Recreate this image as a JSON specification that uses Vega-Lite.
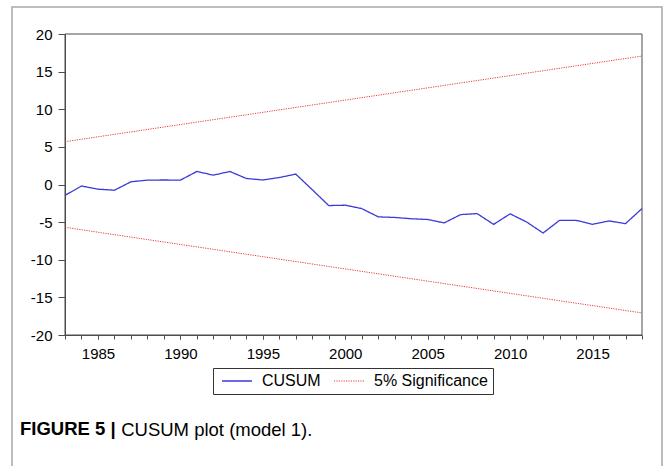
{
  "$schema": "https://vega.github.io/schema/vega-lite/v6.json",
  "width": 650,
  "height": 461,
  "autosize": "none",
  "padding": {"left": 12, "top": 7, "right": 3, "bottom": -2},
  "background": "white",
  "config": {
    "view": {"stroke": "#a8a8a8", "strokeWidth": 1.5},
    "font": "Liberation Sans",
    "axis": {
      "grid": false,
      "ticks": true,
      "labelOverlap": false,
      "labelFlush": false,
      "domainColor": "#4d4d4d",
      "tickColor": "#4d4d4d",
      "labelFont": "Liberation Sans",
      "labelFontSize": 15,
      "labelColor": "black"
    },
    "axisX": {"tickSize": 4, "labelPadding": 7},
    "axisY": {"tickSize": 7, "labelPadding": 6}
  },
  "title": {
    "text": "FIGURE 5 |",
    "orient": "bottom",
    "anchor": "start",
    "frame": "group",
    "offset": -33,
    "baseline": "alphabetic",
    "dx": 8,
    "fontSize": 18.5,
    "fontWeight": "bold",
    "color": "black",
    "font": "Liberation Sans"
  },
  "resolve": {"axis": {"x": "independent"}},
  "layer": [
    {
      "data": {
        "values": [
          {"year": 1983, "value": -1.45, "series": "CUSUM", "band": "cusum"},
          {"year": 1984, "value": -0.2, "series": "CUSUM", "band": "cusum"},
          {"year": 1985, "value": -0.62, "series": "CUSUM", "band": "cusum"},
          {"year": 1986, "value": -0.76, "series": "CUSUM", "band": "cusum"},
          {"year": 1987, "value": 0.36, "series": "CUSUM", "band": "cusum"},
          {"year": 1988, "value": 0.58, "series": "CUSUM", "band": "cusum"},
          {"year": 1989, "value": 0.6, "series": "CUSUM", "band": "cusum"},
          {"year": 1990, "value": 0.58, "series": "CUSUM", "band": "cusum"},
          {"year": 1991, "value": 1.73, "series": "CUSUM", "band": "cusum"},
          {"year": 1992, "value": 1.24, "series": "CUSUM", "band": "cusum"},
          {"year": 1993, "value": 1.73, "series": "CUSUM", "band": "cusum"},
          {"year": 1994, "value": 0.8, "series": "CUSUM", "band": "cusum"},
          {"year": 1995, "value": 0.6, "series": "CUSUM", "band": "cusum"},
          {"year": 1996, "value": 0.93, "series": "CUSUM", "band": "cusum"},
          {"year": 1997, "value": 1.38, "series": "CUSUM", "band": "cusum"},
          {"year": 1998, "value": -0.7, "series": "CUSUM", "band": "cusum"},
          {"year": 1999, "value": -2.8, "series": "CUSUM", "band": "cusum"},
          {"year": 2000, "value": -2.75, "series": "CUSUM", "band": "cusum"},
          {"year": 2001, "value": -3.2, "series": "CUSUM", "band": "cusum"},
          {"year": 2002, "value": -4.3, "series": "CUSUM", "band": "cusum"},
          {"year": 2003, "value": -4.38, "series": "CUSUM", "band": "cusum"},
          {"year": 2004, "value": -4.55, "series": "CUSUM", "band": "cusum"},
          {"year": 2005, "value": -4.65, "series": "CUSUM", "band": "cusum"},
          {"year": 2006, "value": -5.1, "series": "CUSUM", "band": "cusum"},
          {"year": 2007, "value": -4.0, "series": "CUSUM", "band": "cusum"},
          {"year": 2008, "value": -3.87, "series": "CUSUM", "band": "cusum"},
          {"year": 2009, "value": -5.3, "series": "CUSUM", "band": "cusum"},
          {"year": 2010, "value": -3.9, "series": "CUSUM", "band": "cusum"},
          {"year": 2011, "value": -4.98, "series": "CUSUM", "band": "cusum"},
          {"year": 2012, "value": -6.45, "series": "CUSUM", "band": "cusum"},
          {"year": 2013, "value": -4.76, "series": "CUSUM", "band": "cusum"},
          {"year": 2014, "value": -4.76, "series": "CUSUM", "band": "cusum"},
          {"year": 2015, "value": -5.29, "series": "CUSUM", "band": "cusum"},
          {"year": 2016, "value": -4.84, "series": "CUSUM", "band": "cusum"},
          {"year": 2017, "value": -5.2, "series": "CUSUM", "band": "cusum"},
          {"year": 2018, "value": -3.2, "series": "CUSUM", "band": "cusum"},
          {"year": 1983, "value": 5.69, "series": "5% Significance", "band": "upper"},
          {"year": 2018, "value": 17.07, "series": "5% Significance", "band": "upper"},
          {"year": 1983, "value": -5.69, "series": "5% Significance", "band": "lower"},
          {"year": 2018, "value": -17.07, "series": "5% Significance", "band": "lower"}
        ]
      },
      "mark": {"type": "line"},
      "encoding": {
        "x": {
          "field": "year",
          "type": "quantitative",
          "scale": {"domain": [1983, 2018], "range": [53, 630], "nice": false, "zero": false},
          "axis": {
            "orient": "bottom",
            "offset": -133,
            "values": [1985, 1990, 1995, 2000, 2005, 2010, 2015],
            "labelExpr": "datum.value + ''",
            "domain": false,
            "title": "CUSUM plot (model 1).",
            "titleX": 108.7,
            "titleY": 100,
            "titleAlign": "left",
            "titleBaseline": "alphabetic",
            "titleFont": "Liberation Sans",
            "titleFontSize": 18.5,
            "titleFontWeight": "normal",
            "titleColor": "black"
          }
        },
        "y": {
          "field": "value",
          "type": "quantitative",
          "scale": {"domain": [-20, 20], "range": [328, 27], "nice": false, "zero": false},
          "axis": {
            "orient": "left",
            "offset": -53,
            "values": [-20, -15, -10, -5, 0, 5, 10, 15, 20],
            "labelExpr": "datum.value + ''",
            "title": null
          }
        },
        "color": {
          "field": "series",
          "type": "nominal",
          "scale": {"domain": ["CUSUM", "5% Significance"], "range": ["#3a3ad8", "#ec3b3b"]},
          "legend": {
            "title": null,
            "orient": "none",
            "legendX": 201,
            "legendY": 361,
            "direction": "horizontal",
            "symbolType": "M-3,0H3",
            "symbolSize": 100,
            "symbolOffset": 11,
            "symbolStrokeWidth": 1.1,
            "labelFont": "Liberation Sans",
            "labelFontSize": 16,
            "labelColor": "black",
            "labelOffset": 17,
            "columnPadding": 9,
            "padding": 5,
            "strokeColor": "#333333",
            "fillColor": "white"
          }
        },
        "strokeDash": {
          "field": "series",
          "type": "nominal",
          "scale": {"domain": ["CUSUM", "5% Significance"], "range": [[1, 0], [1.2, 1.2]]},
          "legend": {
            "title": null,
            "orient": "none",
            "legendX": 201,
            "legendY": 361,
            "direction": "horizontal",
            "symbolType": "M-3,0H3",
            "symbolSize": 100,
            "symbolOffset": 11,
            "symbolStrokeWidth": 1.1,
            "labelFont": "Liberation Sans",
            "labelFontSize": 16,
            "labelColor": "black",
            "labelOffset": 17,
            "columnPadding": 9,
            "padding": 5,
            "strokeColor": "#333333",
            "fillColor": "white"
          }
        },
        "strokeWidth": {
          "field": "series",
          "type": "nominal",
          "scale": {"domain": ["CUSUM", "5% Significance"], "range": [1.3, 1]},
          "legend": null
        },
        "detail": {"field": "band", "type": "nominal"}
      }
    },
    {
      "data": {"values": [{}]},
      "mark": {"type": "rect", "fill": null, "stroke": "#4d4d4d", "strokeWidth": 1},
      "encoding": {
        "x": {
          "datum": 1983,
          "type": "quantitative",
          "axis": {
            "orient": "bottom",
            "offset": -133,
            "values": [1983, 1984, 1985, 1986, 1987, 1988, 1989, 1990, 1991, 1992, 1993, 1994, 1995, 1996, 1997, 1998, 1999, 2000, 2001, 2002, 2003, 2004, 2005, 2006, 2007, 2008, 2009, 2010, 2011, 2012, 2013, 2014, 2015, 2016, 2017, 2018],
            "labels": false,
            "domain": true,
            "title": null
          }
        },
        "x2": {"datum": 2018},
        "y": {"datum": 20, "type": "quantitative"},
        "y2": {"datum": -20}
      }
    }
  ]
}
